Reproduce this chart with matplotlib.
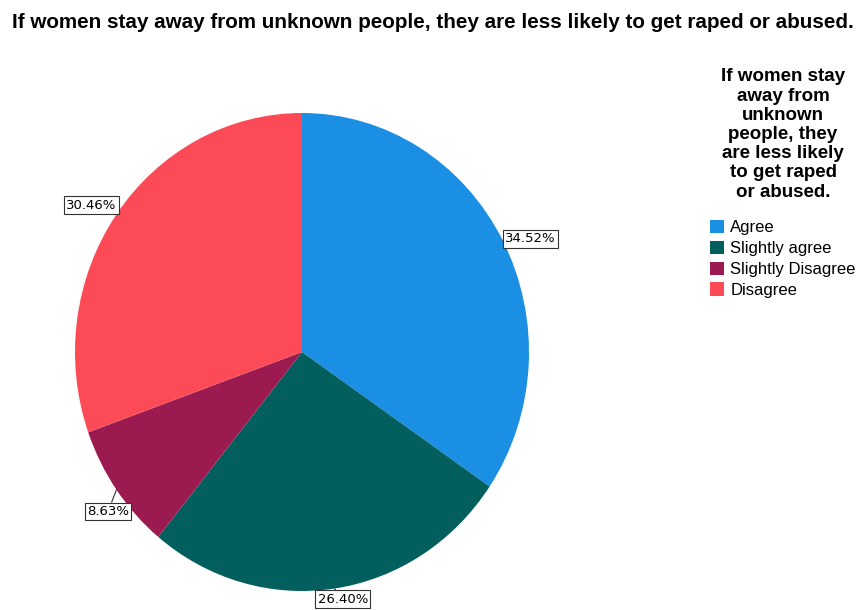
import matplotlib
matplotlib.use("Agg")
import matplotlib.pyplot as plt
import numpy as np

# Survey responses (percent of respondents)
categories = ["Agree", "Slightly agree", "Slightly Disagree", "Disagree"]
shares = [34.52, 26.40, 8.63, 30.46]
colors = ["#1a8fe3", "#035f5d", "#9b1a4f", "#fc4b57"]

question = "If women stay away from unknown people, they are less likely to get raped or abused."
legend_title = "If women stay\naway from\nunknown\npeople, they\nare less likely\nto get raped\nor abused."

# per-slice label placement: (offset in points, ha, va)
label_style = [
    ((2, 1), "left", "center"),
    ((6, -3), "center", "top"),
    ((-6, -11), "center", "top"),
    ((0, 2), "right", "bottom"),
]

plt.rcParams["font.family"] = ["Liberation Sans", "DejaVu Sans"]

fig = plt.figure(figsize=(8.62, 6.10), dpi=100)
W, H = 862, 610
ax = fig.add_axes([75 / W, 19 / H, 454 / W, 478 / H])

wedges, _ = ax.pie(shares, colors=colors, startangle=90, counterclock=False,
                   radius=1.0, center=(0, 0), frame=False,
                   wedgeprops=dict(linewidth=0))
ax.set_xlim(-1, 1)
ax.set_ylim(-1, 1)
ax.set_aspect("auto")
ax.axis("off")

for w, val, (off, ha, va) in zip(wedges, shares, label_style):
    mid = np.deg2rad((w.theta1 + w.theta2) / 2)
    x, y = np.cos(mid), np.sin(mid)
    ax.annotate(f"{val:.2f}%", xy=(x, y), xytext=off, textcoords="offset points",
                ha=ha, va=va, fontsize=9.5, annotation_clip=False,
                family=["DejaVu Sans"],
                bbox=dict(boxstyle="square,pad=0.18", fc="white", ec="#333333", lw=0.8),
                arrowprops=dict(arrowstyle="-", color="#333333", lw=0.8,
                                shrinkA=0, shrinkB=0))

fig.text(433 / W, 1 - 22 / H, question, ha="center", va="center",
         fontsize=14.9, fontweight="bold")

leg = fig.legend(wedges, categories, loc="upper left",
                 bbox_to_anchor=(702 / W, 1 - 60 / H), frameon=False,
                 title=legend_title, fontsize=12,
                 title_fontproperties=dict(weight="bold", size=13.5),
                 handlelength=0.85, handleheight=0.85, handletextpad=0.35,
                 labelspacing=0.32, borderpad=0, alignment="center")
leg.get_title().set_multialignment("center")
leg.get_title().set_linespacing(1.17)
leg._legend_box.sep = 14

fig.savefig("out.png", dpi=100, facecolor="white")
